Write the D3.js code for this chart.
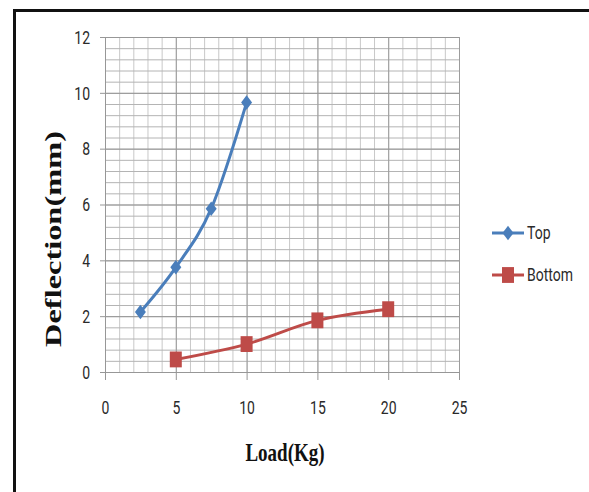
<!DOCTYPE html>
<html>
<head>
<meta charset="utf-8">
<script src="https://cdn.jsdelivr.net/npm/d3@7"></script>
<style>
  body { margin: 0; background: #fff; }
  svg { display: block; }
</style>
</head>
<body>
<div id="chart"></div>
<script>
var svgWidth = 589;
var svgHeight = 492;

// Data
var seriesNames = ["Top", "Bottom"];
var loadTop = [2.5, 5, 7.5, 10];
var deflTop = [2.15, 3.75, 5.85, 9.65];
var loadBottom = [5, 10, 15, 20];
var deflBottom = [0.45, 1.0, 1.85, 2.25];
var xTicks = [0, 5, 10, 15, 20, 25];
var yTicks = [0, 2, 4, 6, 8, 10, 12];

var colors = ["#4a7ebb", "#be4b48"];
var stretch = 1.32; // the source image is stretched vertically

var svg = d3.select("#chart")
  .append("svg")
  .attr("width", svgWidth)
  .attr("height", svgHeight);

// outer frame (runs off the right and bottom edges)
svg.append("rect")
  .attr("x", 14.5)
  .attr("y", 10.5)
  .attr("width", 620)
  .attr("height", 520)
  .attr("fill", "#fff")
  .attr("stroke", "#111")
  .attr("stroke-width", 3);

var xScale = d3.scaleLinear().domain([0, 25]).range([105, 459]);
var yScale = d3.scaleLinear().domain([0, 12]).range([372, 37]);
var plotH = yScale(0) - yScale(12);
var plotW = xScale(25) - xScale(0);

// Minor gridlines
svg.append("g")
  .attr("transform", `translate(0, ${yScale(0)})`)
  .call(d3.axisBottom(xScale).tickValues(d3.range(0, 26, 1)).tickSize(-plotH).tickFormat(""))
  .call(g => g.select(".domain").remove())
  .selectAll("line").attr("stroke", "#c8c8c8").attr("stroke-width", 1);

svg.append("g")
  .attr("transform", `translate(${xScale(0)}, 0)`)
  .call(d3.axisLeft(yScale).tickValues(d3.range(0, 31).map(i => i * 0.4)).tickSize(-plotW).tickFormat(""))
  .call(g => g.select(".domain").remove())
  .selectAll("line").attr("stroke", "#b4b4b4").attr("stroke-width", 1);

// Major gridlines
svg.append("g")
  .attr("transform", `translate(0, ${yScale(0)})`)
  .call(d3.axisBottom(xScale).tickValues(xTicks).tickSize(-plotH).tickFormat(""))
  .call(g => g.select(".domain").remove())
  .selectAll("line").attr("stroke", "#9c9c9c").attr("stroke-width", 1);

svg.append("g")
  .attr("transform", `translate(${xScale(0)}, 0)`)
  .call(d3.axisLeft(yScale).tickValues(yTicks).tickSize(-plotW).tickFormat(""))
  .call(g => g.select(".domain").remove())
  .selectAll("line").attr("stroke", "#979797").attr("stroke-width", 1);

// Axes
var bottomAxis = d3.axisBottom(xScale).tickValues(xTicks).tickSizeInner(8).tickSizeOuter(0);
var leftAxis = d3.axisLeft(yScale).tickValues(yTicks).tickSizeInner(5).tickSizeOuter(0);

var xAxisG = svg.append("g")
  .attr("transform", `translate(0, ${yScale(0)})`)
  .call(bottomAxis);
var yAxisG = svg.append("g")
  .attr("transform", `translate(${xScale(0)}, 0)`)
  .call(leftAxis);

[xAxisG, yAxisG].forEach(function(g) {
  g.select(".domain").attr("stroke", "#979797");
  g.selectAll(".tick line").attr("stroke", "#979797");
  g.selectAll(".tick text")
    .attr("font-family", "Roboto, 'Open Sans', sans-serif")
    .attr("font-size", 14)
    .attr("fill", "#2a2a2a")
    .attr("dy", null)
    .attr("dominant-baseline", "central");
});
xAxisG.selectAll(".tick text")
  .attr("y", null)
  .attr("transform", `translate(0, 36) scale(1, ${stretch})`);
yAxisG.selectAll(".tick text")
  .attr("x", null)
  .attr("transform", `translate(-15, 0) scale(1, ${stretch})`);

// Lines (Excel-style smoothing)
var line = d3.line()
  .x(d => xScale(d[0]))
  .y(d => yScale(d[1]))
  .curve(d3.curveCardinal);

var topData = loadTop.map((v, i) => [v, deflTop[i]]);
var bottomData = loadBottom.map((v, i) => [v, deflBottom[i]]);

var series = [topData, bottomData];

svg.selectAll(".series-line")
  .data(series)
  .enter()
  .append("path")
  .attr("class", "series-line")
  .attr("d", d => line(d))
  .attr("fill", "none")
  .attr("stroke", (d, i) => colors[i])
  .attr("stroke-width", 3);

// Markers
function diamond(cx, cy) {
  var w = 5.5, h = 5.5 * stretch;
  return `M${cx},${cy - h}L${cx + w},${cy}L${cx},${cy + h}L${cx - w},${cy}Z`;
}
function square(cx, cy) {
  var w = 6, h = 6 * stretch;
  return `M${cx - w},${cy - h}H${cx + w}V${cy + h}H${cx - w}Z`;
}

svg.selectAll(".marker-top")
  .data(topData)
  .enter()
  .append("path")
  .attr("class", "marker-top")
  .attr("d", d => diamond(xScale(d[0]), yScale(d[1])))
  .attr("fill", colors[0]);

svg.selectAll(".marker-bottom")
  .data(bottomData)
  .enter()
  .append("path")
  .attr("class", "marker-bottom")
  .attr("d", d => square(xScale(d[0]), yScale(d[1])))
  .attr("fill", colors[1]);

// Legend
var legend = svg.append("g").selectAll("g")
  .data(seriesNames)
  .enter()
  .append("g")
  .attr("transform", (d, i) => `translate(492, ${233 + i * 42})`);

legend.append("line")
  .attr("x1", 0).attr("x2", 32)
  .attr("stroke", (d, i) => colors[i])
  .attr("stroke-width", 3);
legend.append("path")
  .attr("d", (d, i) => i === 0 ? diamond(16, 0) : square(16, 0))
  .attr("fill", (d, i) => colors[i]);
legend.append("text")
  .attr("transform", `translate(35, 0) scale(1, ${stretch})`)
  .attr("dominant-baseline", "central")
  .attr("font-family", "Roboto, 'Open Sans', sans-serif")
  .attr("font-size", 14)
  .attr("fill", "#2a2a2a")
  .text(d => d);

// Axis titles
svg.append("text")
  .attr("transform", `translate(285, 461) scale(1, 1.35)`)
  .attr("text-anchor", "middle")
  .attr("font-family", "'Liberation Serif', 'Times New Roman', serif")
  .attr("font-weight", "bold")
  .attr("font-size", 19)
  .attr("fill", "#111")
  .text("Load(Kg)");

svg.append("text")
  .attr("transform", `translate(61, 239) scale(1, 1.35) rotate(-90)`)
  .attr("text-anchor", "middle")
  .attr("font-family", "'Liberation Serif', 'Times New Roman', serif")
  .attr("font-weight", "bold")
  .attr("font-size", 24)
  .attr("fill", "#111")
  .text("Deflection(mm)");
</script>
</body>
</html>
